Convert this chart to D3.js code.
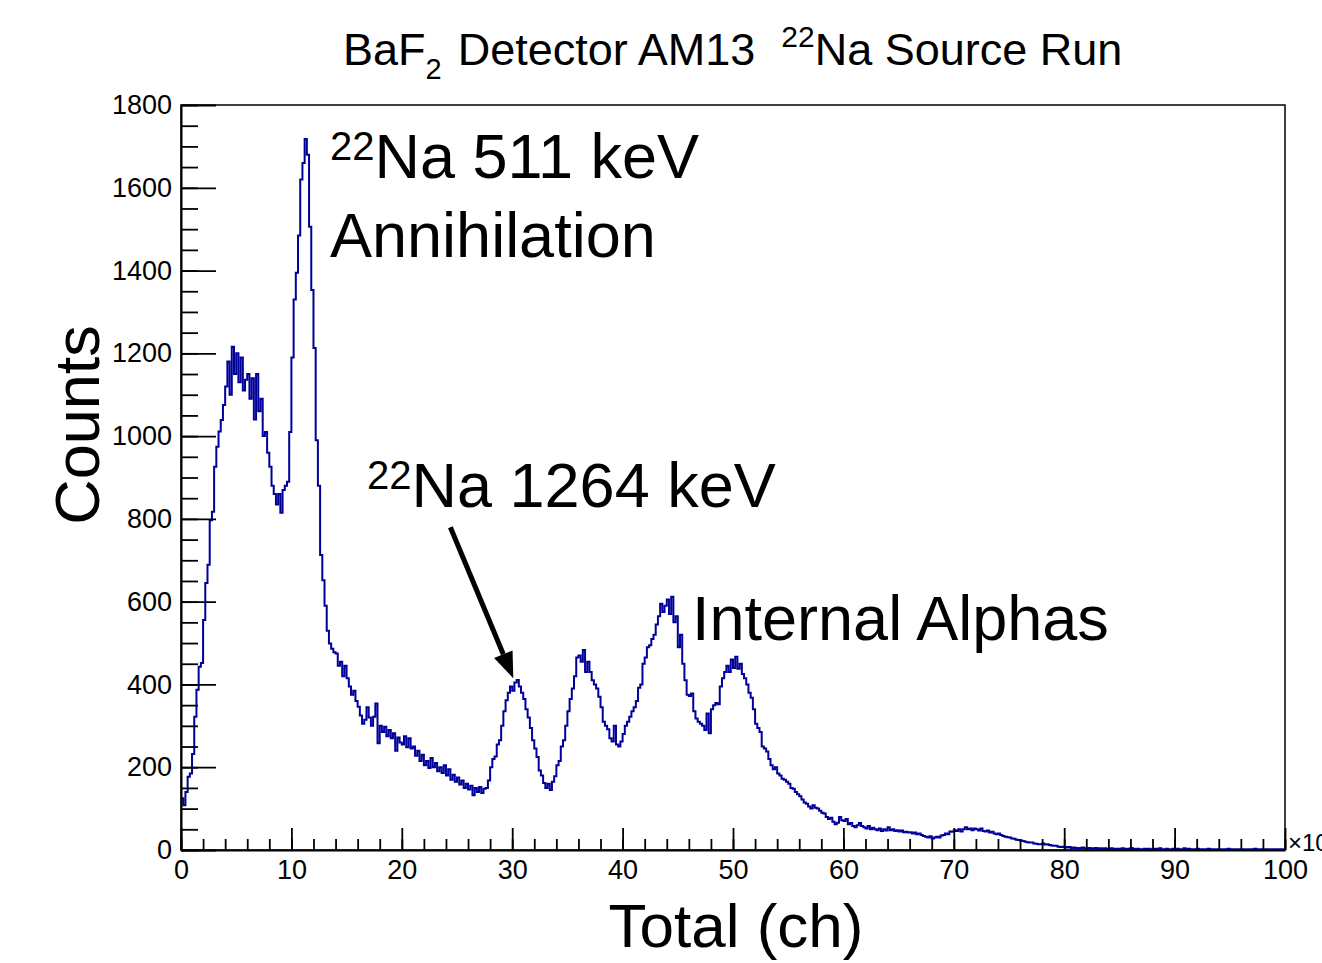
<!DOCTYPE html>
<html>
<head>
<meta charset="utf-8">
<script src="https://cdn.jsdelivr.net/npm/d3@7"></script>
<style>
  body { margin: 0; background: #fff; }
  svg text { font-family: "Liberation Sans", Arial, Helvetica, sans-serif; fill: #000; }
</style>
</head>
<body>
<div id="chart"></div>
<script>
// histogram binning (units of 10^3 ch)
const binStart = 0;
const binWidth = 0.2;

// counts per 0.2-wide bin, one array per 10 units of "Total"
const counts00 = [125,108,140,177,185,232,322,387,443,452,
  556,645,689,797,817,926,974,1011,1039,1075,
  1120,1180,1100,1216,1150,1200,1130,1190,1110,1136,
  1150,1090,1140,1040,1150,1060,1090,1000,1010,960,
  926,880,860,835,860,815,870,880,890,1010];
const counts10 = [1190,1330,1395,1485,1620,1660,1718,1680,1506,1353,
  1213,990,880,713,652,590,530,499,486,478,
  475,445,455,420,445,415,395,375,385,360,
  346,325,305,315,345,320,300,322,354,258,
  300,285,298,275,290,270,282,240,272,260];
const counts20 = [255,275,248,270,245,250,228,240,215,230,
  205,215,198,222,200,210,190,200,186,205,
  180,195,170,182,165,175,158,168,150,160,
  146,155,132,150,140,152,138,148,150,168,
  200,220,226,255,265,300,335,362,380,395];
const counts30 = [385,405,411,395,380,365,340,320,295,265,
  245,225,192,180,162,150,160,145,165,178,
  205,215,250,265,300,335,365,390,420,465,
  470,455,483,430,455,430,410,400,390,370,
  345,310,300,292,270,262,300,255,250,262];
const counts40 = [280,300,310,322,335,345,360,392,400,450,
  465,490,495,510,520,545,565,595,575,590,
  605,570,612,550,565,490,520,450,410,375,
  372,378,335,318,310,305,300,290,330,282,
  340,350,355,352,395,415,430,445,430,460];
const counts50 = [440,467,438,450,425,415,400,380,368,340,
  305,295,285,250,245,238,220,205,195,200,
  185,180,172,170,165,160,150,148,140,135,
  130,122,115,112,105,100,108,102,100,95,
  90,88,80,75,78,68,62,66,80,72];
const counts60 = [70,75,62,65,58,55,60,65,58,55,
  52,58,50,54,50,48,52,46,50,47,
  55,48,50,46,48,45,47,43,44,42,
  43,40,42,38,40,36,34,32,30,33,
  28,30,32,30,35,36,40,38,45,44];
const counts70 = [48,46,50,45,50,55,50,52,48,52,
  50,47,52,46,45,47,42,44,40,38,
  40,36,34,32,31,30,28,27,25,24,
  23,22,20,19,18,18,16,15,14,14,
  16,13,14,12,11,10,10,8,7,8];
const counts80 = [7,6,7,5,6,5,4,5,6,4,
  4,5,3,4,5,3,4,3,4,3,
  3,4,2,3,3,2,4,3,2,3,
  5,3,2,3,2,2,3,2,3,2,
  2,3,2,4,2,2,3,2,2,3];
const counts90 = [2,3,2,2,4,2,3,2,2,2,
  3,2,2,1,2,3,2,2,1,2,
  2,1,2,2,3,2,1,2,2,1,
  2,2,1,2,1,2,3,2,1,2,
  1,2,2,1,2,1,2,1,2,2];

// axis ranges and ticks
const xDomain = [0, 100];
const yDomain = [0, 1800];
const xMajorTicks = [0, 10, 20, 30, 40, 50, 60, 70, 80, 90, 100];
const yMajorTicks = [0, 200, 400, 600, 800, 1000, 1200, 1400, 1600, 1800];

// arrow for the 1264 keV peak, in data coordinates
const arrowFrom = { x: 24.4, y: 780 };
const arrowTo = { x: 30.1, y: 415 };

const W = 1322, H = 963;
const plot = { left: 181, top: 105, right: 1285, bottom: 850 };

const svg = d3.select("#chart").append("svg")
  .attr("width", W)
  .attr("height", H);

svg.append("rect").attr("width", W).attr("height", H).attr("fill", "#fff");

const x = d3.scaleLinear().domain(xDomain).range([plot.left, plot.right]);
const y = d3.scaleLinear().domain(yDomain).range([plot.bottom, plot.top]);

// frame
svg.append("rect")
  .attr("x", plot.left)
  .attr("y", plot.top)
  .attr("width", plot.right - plot.left)
  .attr("height", plot.bottom - plot.top)
  .attr("fill", "none")
  .attr("stroke", "#000")
  .attr("stroke-width", 1.5);

// histogram
const counts = [].concat(counts00, counts10, counts20, counts30, counts40,
  counts50, counts60, counts70, counts80, counts90);
const steps = counts.map((c, i) => ({ x: binStart + i * binWidth, y: c }));
steps.push({ x: binStart + counts.length * binWidth, y: counts[counts.length - 1] });

const line = d3.line()
  .x(d => x(d.x))
  .y(d => y(d.y))
  .curve(d3.curveStepAfter);

svg.append("path")
  .datum(steps)
  .attr("fill", "none")
  .attr("stroke", "#000099")
  .attr("stroke-width", 2)
  .attr("d", line);

// Y axis - minor ticks first, then major with labels
svg.append("g")
  .attr("transform", `translate(${plot.left},0)`)
  .call(d3.axisLeft(y).tickValues(d3.range(0, 1801, 50)).tickSize(-17).tickSizeOuter(0).tickFormat(""))
  .call(g => g.select(".domain").remove());
const yAxis = svg.append("g")
  .attr("transform", `translate(${plot.left},0)`)
  .call(d3.axisLeft(y).tickValues(yMajorTicks).tickSize(-35).tickSizeOuter(0).tickPadding(9)
    .tickFormat(d3.format("d")));

// X axis
svg.append("g")
  .attr("transform", `translate(0,${plot.bottom})`)
  .call(d3.axisBottom(x).tickValues(d3.range(0, 101, 2)).tickSize(-11).tickSizeOuter(0).tickFormat(""))
  .call(g => g.select(".domain").remove());
const xAxis = svg.append("g")
  .attr("transform", `translate(0,${plot.bottom})`)
  .call(d3.axisBottom(x).tickValues(xMajorTicks).tickSize(-22).tickSizeOuter(0).tickPadding(10)
    .tickFormat(d3.format("d")));

svg.selectAll(".tick line").attr("stroke", "#000").attr("stroke-width", 1.8);
[yAxis, xAxis].forEach(g => {
  g.attr("font-family", null).attr("font-size", null);
  g.select(".domain").attr("stroke", "#000").attr("stroke-width", 2);
  g.selectAll(".tick text").attr("font-size", 27).attr("fill", "#000");
});

// exponent at the end of the x axis (clipped by the page edge, as in the original)
svg.append("text")
  .attr("x", plot.right + 3)
  .attr("y", plot.bottom + 1)
  .attr("font-size", 24)
  .text("\u00d710\u00b3");

// axis titles
svg.append("text")
  .attr("transform", "translate(99,425) rotate(-90)")
  .attr("text-anchor", "middle")
  .attr("font-size", 63)
  .text("Counts");

svg.append("text")
  .attr("x", 736)
  .attr("y", 947)
  .attr("text-anchor", "middle")
  .attr("font-size", 62)
  .text("Total (ch)");

// title
const title = svg.append("text").attr("x", 343).attr("y", 65).attr("font-size", 45);
title.append("tspan").text("BaF");
title.append("tspan").attr("font-size", 29).attr("dy", 14).text("2");
title.append("tspan").attr("dy", -14).attr("dx", 16).text("Detector AM13");
title.append("tspan").attr("font-size", 30).attr("dy", -18).attr("dx", 26).text("22");
title.append("tspan").attr("dy", 18).text("Na Source Run");

// annotations
const a1 = svg.append("text").attr("x", 330).attr("y", 178).attr("font-size", 63);
a1.append("tspan").attr("font-size", 40).attr("dy", -18).text("22");
a1.append("tspan").attr("dy", 18).text("Na 511 keV");
svg.append("text").attr("x", 330).attr("y", 257).attr("font-size", 63).text("Annihilation");

const a2 = svg.append("text").attr("x", 367).attr("y", 507).attr("font-size", 63);
a2.append("tspan").attr("font-size", 40).attr("dy", -18).text("22");
a2.append("tspan").attr("dy", 18).text("Na 1264 keV");

svg.append("text").attr("x", 692).attr("y", 640).attr("font-size", 63).text("Internal Alphas");

// arrow
const ax0 = x(arrowFrom.x), ay0 = y(arrowFrom.y);
const ax1 = x(arrowTo.x), ay1 = y(arrowTo.y);
const ang = Math.atan2(ay1 - ay0, ax1 - ax0);
const headLen = 26, headHalf = 10;
const bx = ax1 - headLen * Math.cos(ang), by = ay1 - headLen * Math.sin(ang);
svg.append("line")
  .attr("x1", ax0).attr("y1", ay0)
  .attr("x2", bx).attr("y2", by)
  .attr("stroke", "#000")
  .attr("stroke-width", 5);
svg.append("polygon")
  .attr("points", [
    [ax1, ay1],
    [bx + headHalf * Math.sin(ang), by - headHalf * Math.cos(ang)],
    [bx - headHalf * Math.sin(ang), by + headHalf * Math.cos(ang)]
  ].map(p => p.join(",")).join(" "))
  .attr("fill", "#000");
</script>
</body>
</html>
